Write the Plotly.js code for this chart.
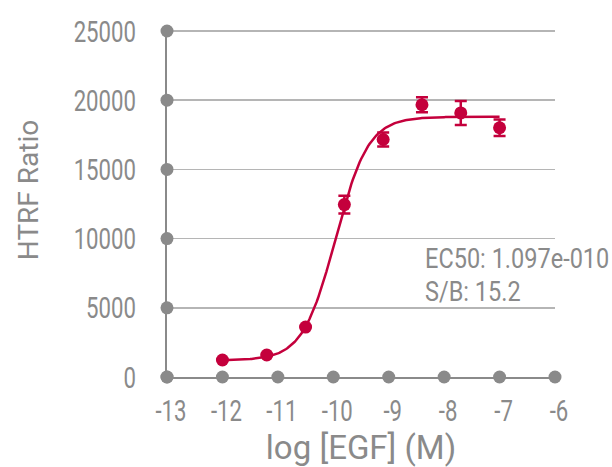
<!DOCTYPE html>
<html>
<head>
<meta charset="utf-8">
<script src="https://cdn.plot.ly/plotly-3.0.1.min.js"></script>
<style>html,body{margin:0;padding:0;background:#fff;}#chart{width:612px;height:467px;}</style>
</head>
<body>
<div id="chart"></div>
<script>
// Measured data (log molar EGF concentration vs HTRF ratio)
const logConc = [-12, -11.2, -10.5, -9.8, -9.1, -8.4, -7.7, -7.0];
const htrf    = [1230, 1590, 3610, 12460, 17160, 19670, 19080, 18010];
const htrfErr = [0, 0, 0, 640, 500, 540, 870, 600];

// 4-parameter logistic fit parameters (EC50 as annotated)
const fitBottom = 1200;
const fitTop = 18800;
const fitLogEC50 = Math.log10(1.097e-10);
const fitHill = 1.47;
const fitRange = [-12, -7];

// Axis ticks
const xTicks = [-13, -12, -11, -10, -9, -8, -7, -6];
const yTicks = [0, 5000, 10000, 15000, 20000, 25000];

const ec50Label = 'EC50: 1.097e-010';
const sbLabel = 'S/B: 15.2';

const red = '#c4003c';
const grey = '#8a8a8a';
const FONT = 'Roboto, "Liberation Sans", sans-serif';

// Fitted curve sampled from the 4PL model
const curveX = [], curveY = [];
const nSamp = 200;
for (let i = 0; i <= nSamp; i++) {
  const x = fitRange[0] + (fitRange[1] - fitRange[0]) * i / nSamp;
  curveX.push(x);
  curveY.push(fitBottom + (fitTop - fitBottom) / (1 + Math.pow(10, (fitLogEC50 - x) * fitHill)));
}

const traces = [
  { // axis dots on x axis
    x: xTicks, y: xTicks.map(() => 0), mode: 'markers', type: 'scatter',
    marker: {color: grey, size: 13}, cliponaxis: false, hoverinfo: 'skip', showlegend: false
  },
  { // axis dots on y axis
    x: yTicks.map(() => xTicks[0]), y: yTicks, mode: 'markers', type: 'scatter',
    marker: {color: grey, size: 13}, cliponaxis: false, hoverinfo: 'skip', showlegend: false
  },
  {
    x: curveX, y: curveY, mode: 'lines', type: 'scatter',
    line: {color: red, width: 2.5}, showlegend: false
  },
  {
    x: logConc, y: htrf, mode: 'markers', type: 'scatter',
    marker: {color: red, size: 13},
    error_y: {type: 'data', array: htrfErr, visible: true, color: red, thickness: 2.5, width: 6},
    cliponaxis: false, showlegend: false
  }
];

const layout = {
  width: 612, height: 467,
  margin: {l: 167, r: 57, t: 29, b: 90},
  paper_bgcolor: '#fff', plot_bgcolor: '#fff',
  font: {family: FONT, color: grey, size: 28},
  showlegend: false,
  xaxis: {
    range: [-13, -6], tickvals: xTicks, ticktext: xTicks.map(String),
    showgrid: false, zeroline: false,
    showline: true, linecolor: grey, linewidth: 2,
    ticks: 'outside', ticklen: 6, tickcolor: 'rgba(0,0,0,0)',
    ticklabelshift: 4,
    tickfont: {family: FONT, size: 30, color: grey},
    title: {text: 'log [EGF] (M)', font: {family: FONT, size: 33, color: grey}, standoff: 18},
    automargin: false, fixedrange: true
  },
  yaxis: {
    range: [0, 25145], tickvals: yTicks, ticktext: yTicks.map(String),
    showgrid: true, gridcolor: '#b5b5b5', gridwidth: 1.5,
    zeroline: false,
    showline: true, linecolor: grey, linewidth: 2,
    ticks: 'outside', ticklen: 23, tickcolor: 'rgba(0,0,0,0)',
    tickfont: {family: FONT, size: 30, color: grey},
    title: {text: 'HTRF Ratio', font: {family: FONT, size: 28, color: grey}, standoff: 18},
    automargin: false, fixedrange: true
  },
  annotations: [
    {text: ec50Label, xref: 'paper', yref: 'paper', x: (423 - 167) / 388, y: (377 - 259) / 346,
     xanchor: 'left', yanchor: 'middle', showarrow: false, font: {family: FONT, size: 28, color: grey}},
    {text: sbLabel, xref: 'paper', yref: 'paper', x: (423 - 167) / 388, y: (377 - 292) / 346,
     xanchor: 'left', yanchor: 'middle', showarrow: false, font: {family: FONT, size: 28, color: grey}}
  ]
};

// Horizontally condense text (the reference uses a condensed face)
function squeeze(nodes, s, mode) {
  nodes.forEach(t => {
    const bb = t.getBBox();
    const ax = mode === 'left' ? bb.x : mode === 'right' ? bb.x + bb.width : bb.x + bb.width / 2;
    const tr = t.getAttribute('transform') || '';
    t.setAttribute('transform', (tr + ' translate(' + ax + ',0) scale(' + s + ',1) translate(' + (-ax) + ',0)').trim());
  });
}

Plotly.newPlot('chart', traces, layout, {displayModeBar: false, staticPlot: true}).then(gd => {
  squeeze(gd.querySelectorAll('.ytick text'), 0.74, 'right');
  squeeze(gd.querySelectorAll('.xtick text'), 0.74, 'center');
  squeeze(gd.querySelectorAll('.annotation-text'), 0.84, 'left');
  // the reference's y title sits a little right of and above the default spot
  gd.querySelectorAll('.ytitle').forEach(t => {
    const tr = t.getAttribute('transform') || '';
    t.setAttribute('transform', ('translate(12,-13) ' + tr).trim());
  });
});
</script>
</body>
</html>
